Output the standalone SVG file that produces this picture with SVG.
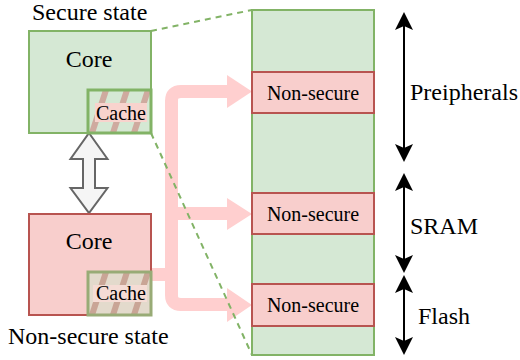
<svg xmlns="http://www.w3.org/2000/svg" width="520" height="360" viewBox="0 0 520 360">
<style>
text{fill:#000}
.big{font-size:24px}
.mid{font-size:20px}
.green{fill:#d5e8d4;stroke:#82b366;stroke-width:2}
.red{fill:#f8cecc;stroke:#b85450;stroke-width:2}
.flow{fill:none;stroke:#ffcfcf;stroke-width:13;stroke-linejoin:round}
.head{fill:#ffcfcf}
.dash{fill:none;stroke:#82b366;stroke-width:2;stroke-dasharray:6 5}
.dim{stroke:#000;stroke-width:2;marker-start:url(#ah);marker-end:url(#ah)}
.stripe{stroke-width:6;fill:none}
</style>
<defs>
<marker id="ah" viewBox="0 0 18 18" refX="15" refY="9" markerWidth="18" markerHeight="18" markerUnits="userSpaceOnUse" orient="auto-start-reverse">
<path d="M0,0 L18,9 L0,18 L4,9 Z" fill="#000"/>
</marker>
<clipPath id="c1"><rect x="88" y="90" width="63" height="43"/></clipPath>
<clipPath id="c2"><rect x="88" y="272" width="63" height="43"/></clipPath>
</defs>

<g id="connectors">
<path class="flow" d="M151,274.5 H171.5"/>
<path class="flow" d="M171.5,290 V101 Q171.5,91.5 181,91.5 H229"/>
<path class="flow" d="M171.5,213.5 H229"/>
<path class="flow" d="M171.5,200 V295 Q171.5,304.5 181,304.5 H229"/>
<polygon class="head" points="227,75 252,91.5 227,108"/>
<polygon class="head" points="227,198 252,214 227,230"/>
<polygon class="head" points="227,288 252,305 227,322"/>
<polygon points="89,133 107.5,159 95,159 95,188 107.5,188 89,213 70.5,188 83,188 83,159 70.5,159" fill="#f5f5f5" stroke="#666666" stroke-width="2" stroke-linejoin="miter"/>
</g>

<g id="memory">
<rect class="green" x="252" y="10" width="122" height="345"/>
</g>
<g id="ns1" font-family="Liberation Serif, serif">
<rect class="red" x="252" y="72" width="122" height="41"/>
<text class="mid" x="313" y="99.5" text-anchor="middle">Non-secure</text>
</g>
<g id="ns2" font-family="Liberation Serif, serif">
<rect class="red" x="252" y="193" width="122" height="41"/>
<text class="mid" x="313" y="220.5" text-anchor="middle">Non-secure</text>
</g>
<g id="ns3" font-family="Liberation Serif, serif">
<rect class="red" x="252" y="284" width="122" height="42"/>
<text class="mid" x="313" y="311.5" text-anchor="middle">Non-secure</text>
</g>

<g id="secure-core" font-family="Liberation Serif, serif">
<text class="big" x="32" y="19.5">Secure state</text>
<rect class="green" x="29" y="31" width="122" height="102"/>
<text class="big" x="89" y="66.5" text-anchor="middle">Core</text>
</g>
<g id="secure-cache" font-family="Liberation Serif, serif">
<rect x="88" y="90" width="63" height="43" fill="#d5e8d4"/>
<g clip-path="url(#c1)" class="stripe" stroke="#cfaa9f">
<line x1="71" y1="133" x2="85" y2="90"/>
<line x1="92" y1="133" x2="106" y2="90"/>
<line x1="113" y1="133" x2="127" y2="90"/>
<line x1="134" y1="133" x2="148" y2="90"/>
<line x1="155" y1="133" x2="169" y2="90"/>
</g>
<rect x="88" y="90" width="63" height="43" fill="none" stroke="#82b366" stroke-width="3"/>
<rect x="95" y="103" width="52" height="19" fill="#f8d3cd"/>
<text class="mid" x="121" y="119.5" text-anchor="middle">Cache</text>
</g>

<g id="nonsecure-core" font-family="Liberation Serif, serif">
<rect class="red" x="29" y="214" width="122" height="101"/>
<text class="big" x="89" y="248.5" text-anchor="middle">Core</text>
<text class="big" x="8" y="344">Non-secure state</text>
</g>
<g id="nonsecure-cache" font-family="Liberation Serif, serif">
<rect x="88" y="272" width="63" height="43" fill="#e3dacc"/>
<g clip-path="url(#c2)" class="stripe" stroke="#c9a596">
<line x1="71" y1="315" x2="85" y2="272"/>
<line x1="92" y1="315" x2="106" y2="272"/>
<line x1="113" y1="315" x2="127" y2="272"/>
<line x1="134" y1="315" x2="148" y2="272"/>
<line x1="155" y1="315" x2="169" y2="272"/>
</g>
<rect x="88" y="272" width="63" height="43" fill="none" stroke="#98ab76" stroke-width="3"/>
<rect x="93" y="285" width="54" height="17" fill="#f5dcd5"/>
<text class="mid" x="121" y="299.5" text-anchor="middle">Cache</text>
</g>

<g id="zoom-lines">
<line class="dash" x1="151" y1="31" x2="252" y2="10"/>
<line class="dash" x1="151" y1="133" x2="252" y2="355"/>
</g>

<g id="ranges" font-family="Liberation Serif, serif">
<line class="dim" x1="404" y1="15" x2="404" y2="159"/>
<line class="dim" x1="404" y1="176" x2="404" y2="270"/>
<line class="dim" x1="404" y1="278" x2="404" y2="352"/>
<text class="big" x="410" y="100">Preipherals</text>
<text class="big" x="410" y="233.5">SRAM</text>
<text class="big" x="418" y="324">Flash</text>
</g>
</svg>
